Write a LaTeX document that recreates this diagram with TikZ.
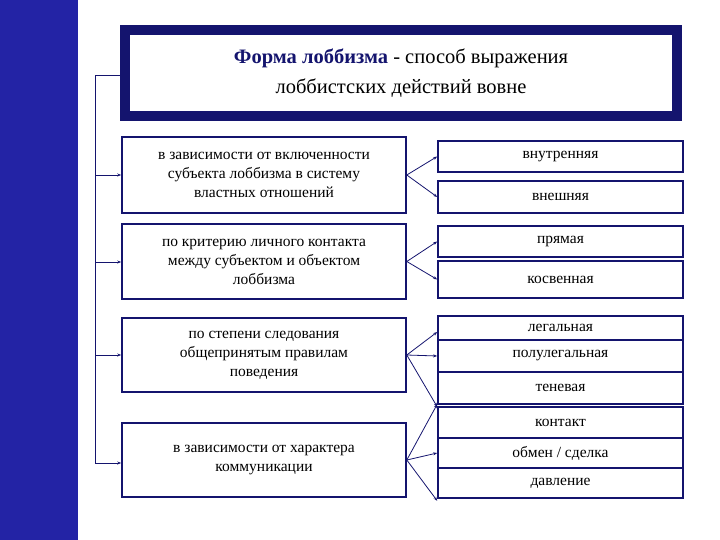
\documentclass[tikz,border=0pt]{standalone}
\usepackage{fontspec}
\setmainfont{Liberation Serif}
\usetikzlibrary{arrows.meta}
\definecolor{navy}{RGB}{20,20,110}
\definecolor{barblue}{RGB}{35,35,165}
\begin{document}
\begin{tikzpicture}[x=1pt,y=-1pt,
  bx/.style={draw=navy,line width=1.6pt,fill=white,align=center,font=\fontsize{15.5}{19}\selectfont,inner sep=0pt},
  con/.style={draw=navy,line width=0.8pt,-{Stealth[length=4pt,width=3pt]}}]
\useasboundingbox (0,0) rectangle (720,540);
\fill[barblue] (0,0) rectangle (78,540);
% title
\node[draw=navy,line width=10pt,fill=white,minimum width=552pt,minimum height=86pt,inner sep=0pt,align=center,font=\fontsize{20.5}{30}\selectfont] (T) at (401,73)
 {\textbf{\textcolor{navy}{Форма лоббизма}} - способ выражения\\лоббистских действий вовне};
% left boxes
\node[bx,minimum width=284pt,minimum height=76pt] (L1) at (264,175) {в зависимости от включенности\\субъекта лоббизма в систему\\властных отношений};
\node[bx,minimum width=284pt,minimum height=75pt] (L2) at (264,261.5) {по критерию личного контакта\\между субъектом и объектом\\лоббизма};
\node[bx,minimum width=284pt,minimum height=74pt] (L3) at (264,355) {по степени следования\\общепринятым правилам\\поведения};
\node[bx,minimum width=284pt,minimum height=74pt] (L4) at (264,460) {в зависимости от характера\\коммуникации};
% right boxes
\node[bx,minimum width=245pt,minimum height=31pt] (A1) at (560.5,156.5) {внутренняя};
\node[bx,minimum width=245pt,minimum height=32pt] (A2) at (560.5,197) {внешняя};
\node[bx,minimum width=245pt,minimum height=31pt] (B1) at (560.5,241.5) {прямая};
\node[bx,minimum width=245pt,minimum height=37pt] (B2) at (560.5,279.5) {косвенная};
\node[bx,minimum width=245pt,minimum height=24pt] (C1) at (560.5,328) {легальная};
\node[bx,minimum width=245pt,minimum height=32pt] (C2) at (560.5,356) {полулегальная};
\node[bx,minimum width=245pt,minimum height=32pt] (C3) at (560.5,388) {теневая};
\node[bx,minimum width=245pt,minimum height=31pt] (D1) at (560.5,422.5) {контакт};
\node[bx,minimum width=245pt,minimum height=30pt] (D2) at (560.5,453) {обмен / сделка};
\node[bx,minimum width=245pt,minimum height=30pt] (D3) at (560.5,483) {давление};
% left spine
\coordinate (s0) at (95,75);
\coordinate (s4) at (95,463);
\draw[navy,line width=0.8pt] (T.west|-s0) -- (s0) -- (s4);
\foreach \n/\y in {L1/175,L2/262,L3/355,L4/463}
  \draw[con] (95,\y) -- (\n.west|-{(0,\y)});
% fan arrows
\draw[con] (L1.east) -- (A1.west);
\draw[con] (L1.east) -- (A2.west);
\draw[con] (L2.east) -- (B1.west);
\draw[con] (L2.east) -- (B2.west);
\draw[con] (L3.east) -- ([yshift=-4pt]C1.west);
\draw[con] (L3.east) -- (C2.west);
\draw[con] (L3.east) -- ([yshift=-2pt]C3.south west);
\draw[con] (L4.east) -- ([yshift=2pt]D1.north west);
\draw[con] (L4.east) -- (D2.west);
\draw[con] (L4.east) -- ([yshift=-2pt]D3.south west);
\end{tikzpicture}
\end{document}
